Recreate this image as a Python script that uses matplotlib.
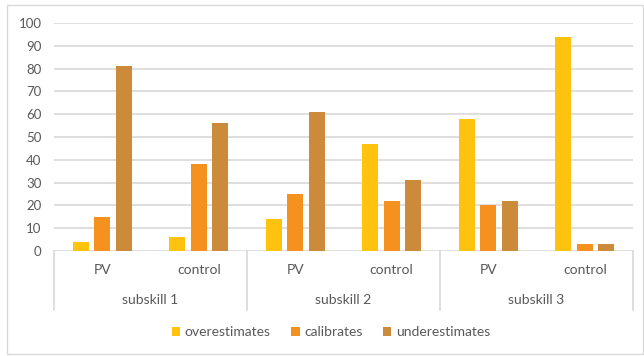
import matplotlib

matplotlib.use("Agg")

import matplotlib.pyplot as plt  # noqa: E402
import matplotlib.transforms as mtransforms  # noqa: E402
from matplotlib.patches import Rectangle  # noqa: E402

plt.rcParams["font.family"] = ["Lato", "DejaVu Sans"]

subskills = ["subskill 1", "subskill 2", "subskill 3"]
conditions = ["PV", "control"]
series = ["overestimates", "calibrates", "underestimates"]
overestimates = [4, 6, 14, 47, 58, 94]
calibrates = [15, 38, 25, 22, 20, 3]
underestimates = [81, 56, 61, 31, 22, 3]
yticks = [0, 10, 20, 30, 40, 50, 60, 70, 80, 90, 100]

colors = ["#FFC30F", "#F5921F", "#CC8A3B"]
text_col = "#595959"
grid_col = "#D9D9D9"

fig = plt.figure(figsize=(6.44, 3.56), dpi=100)
ax = fig.add_axes([54 / 644, 1 - 251 / 356, 579 / 644, 228 / 356])

n_groups = len(subskills) * len(conditions)
pitch = 0.223
width = 0.17
for i, (name, vals) in enumerate(zip(series, [overestimates, calibrates, underestimates])):
    xs = [g + (i - 1) * pitch for g in range(n_groups)]
    ax.bar(xs, vals, width=width, color=colors[i], label=name, zorder=3)

ax.set_xlim(-0.5, n_groups - 0.5)
ax.set_ylim(0, 100)
ax.set_yticks(yticks)
ax.yaxis.grid(True, color=grid_col, linewidth=1.2)
ax.set_axisbelow(True)
for s in ax.spines.values():
    s.set_visible(False)
ax.tick_params(axis="y", length=0, labelsize=9.5, colors=text_col, pad=9)
ax.set_xticks([])

# multi-level category axis
trans = mtransforms.blended_transform_factory(ax.transData, ax.transAxes)
for g in range(n_groups):
    ax.text(g, -0.085, conditions[g % 2], transform=trans, ha="center", va="center",
            fontsize=10, color=text_col)
for k, name in enumerate(subskills):
    ax.text(2 * k + 0.5, -0.215, name, transform=trans, ha="center", va="center",
            fontsize=10, color=text_col)
for b in range(len(subskills) + 1):
    ax.plot([2 * b - 0.5, 2 * b - 0.5], [0, -0.26], transform=trans, color=grid_col,
            linewidth=1.2, clip_on=False)

ax.legend(loc="center", bbox_to_anchor=(331 / 644, 1 - 332 / 356),
          bbox_transform=fig.transFigure, ncol=3, frameon=False, fontsize=10,
          handlelength=0.6, handleheight=0.6, handletextpad=0.3, columnspacing=1.5,
          labelcolor=text_col)

fig.patches.append(Rectangle((7 / 644, 2 / 356), 636 / 644, 349 / 356,
                             transform=fig.transFigure, fill=False,
                             edgecolor=grid_col, linewidth=1))

fig.savefig("out.png", dpi=100)
